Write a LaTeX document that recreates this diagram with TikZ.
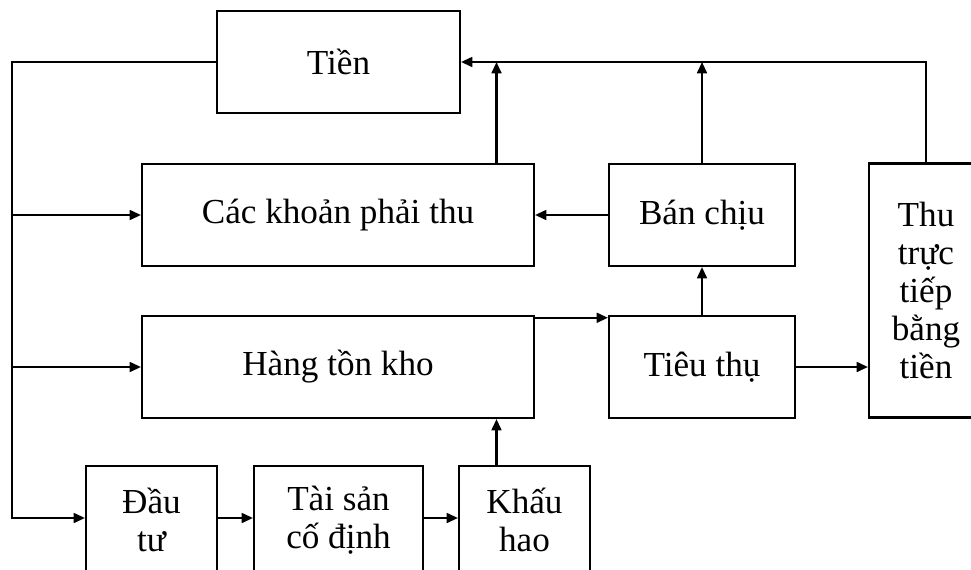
\documentclass[tikz,border=0pt]{standalone}
\usepackage{fontspec}
\setmainfont{Liberation Serif}
\usepackage{tikz}
\usetikzlibrary{positioning, arrows.meta}

\begin{document}
\begin{tikzpicture}[
		>={Triangle[length=8pt,width=7pt]},
		line width=1.5pt,
		blk/.style 2 args={
			draw,
			rectangle,
			minimum width=#1cm,
			minimum height=#2cm,
			inner sep=0pt,
			align=center,
			font=\fontsize{25}{27}\selectfont}
		]
		\useasboundingbox (0,0) rectangle (24.275,-14.225);
		\clip (0,0) rectangle (24.275,-14.225);
		\node[blk={6.075}{2.55}] (tien) at (8.4625, -1.55) {Tiền};
		\node[blk={9.8}{2.55}] (phaithu) at (8.45, -5.375) {Các khoản phải thu};
		\node[blk={4.65}{2.55}] (banchiu) at (17.55, -5.375) {Bán chịu};
		\node[blk={2.85}{6.35}] (thu) at (23.15, -7.2625) {Thu\\trực\\tiếp\\bằng\\tiền};
		\node[blk={9.8}{2.55}] (hang) at (8.45, -9.175) {Hàng tồn kho};
		\node[blk={4.65}{2.55}] (tieuthu) at (17.55, -9.175) {Tiêu thụ};
		\node[blk={3.275}{2.7}] (dautu) at (3.7875, -13.0) {Đầu\\tư};
		\node[blk={4.225}{2.7}] (taisan) at (8.4625, -13.0) {Tài sản\\cố định};
		\node[blk={3.275}{2.7}] (khauhao) at (13.1125, -13.0) {Khấu\\hao};
		\coordinate (lt) at (0.3, -1.55);
		\coordinate (col) at (12.4125, 0);
		\coordinate (row) at (0, -12.95);
		\draw[->] (tien.west) -- (lt) |- (dautu.west |- row);
		\draw[->] (lt |- phaithu.west) to (phaithu.west);
		\draw[->] (lt |- hang.west) to (hang.west);
		\draw[->] (thu.north) |- (tien.east);
		\draw[->] (phaithu.north -| col) to (col |- tien.east);
		\draw[->] (banchiu.north) to (banchiu.north |- tien.east);
		\draw[->] (banchiu.west) to (phaithu.east);
		\draw[->] ([yshift=-2pt]hang.north east) to ([yshift=-2pt]tieuthu.north west);
		\draw[->] (tieuthu.north) to (banchiu.south);
		\draw[->] (tieuthu.east) to (thu.west |- tieuthu.east);
		\draw[->] (khauhao.north -| col) to (hang.south -| col);
		\draw[->] (dautu.east |- row) to (taisan.west |- row);
		\draw[->] (taisan.east |- row) to (khauhao.west |- row);
		\end{tikzpicture}
\end{document}
